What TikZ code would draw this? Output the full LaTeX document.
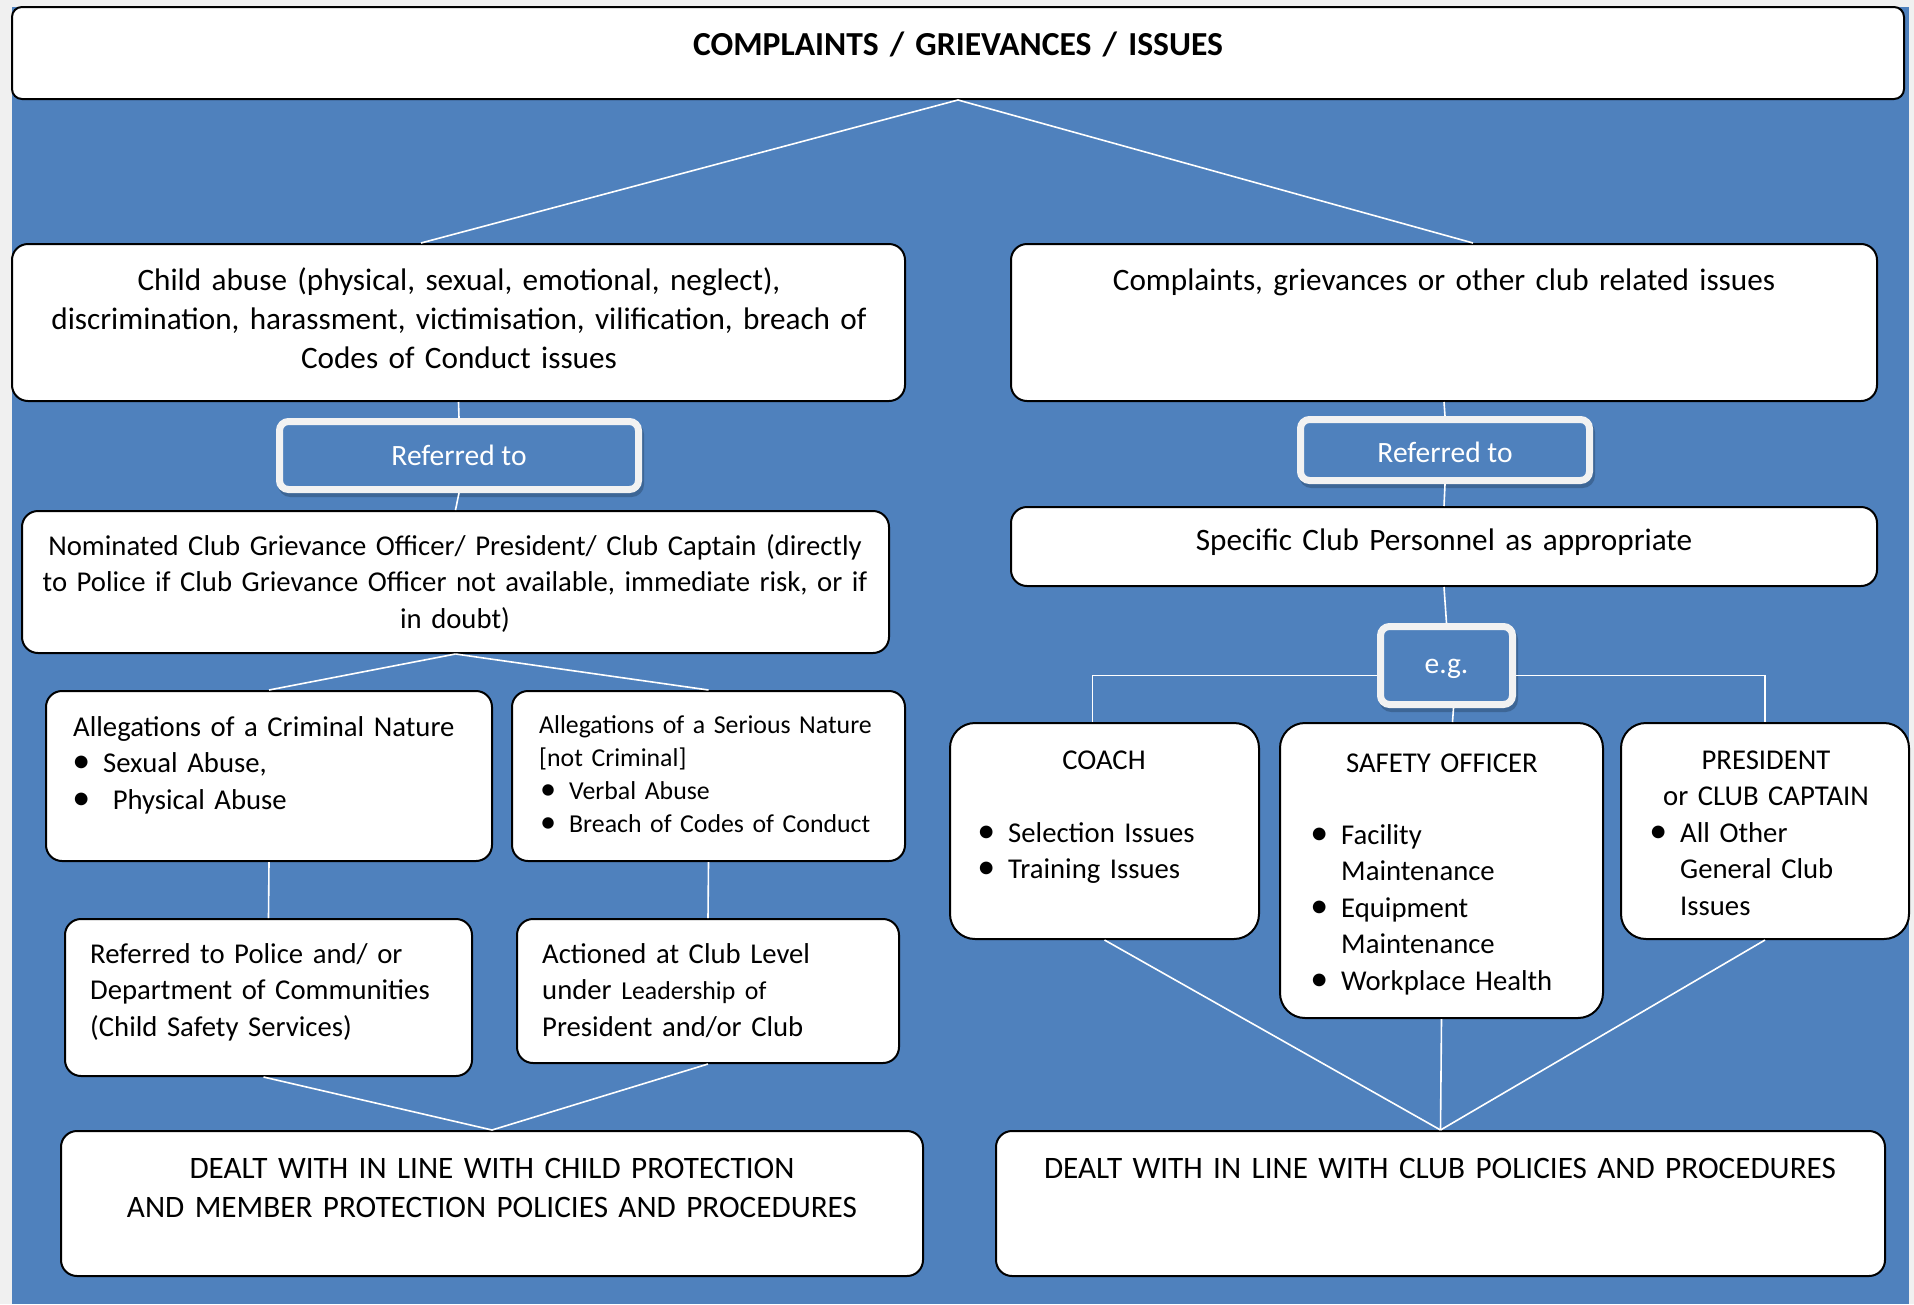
\documentclass[tikz,border=0pt]{standalone}
\usepackage{fontspec}
\setmainfont{Carlito}
\usetikzlibrary{shadows}
\definecolor{bg}{HTML}{4F81BD}
\definecolor{outer}{HTML}{F0F0F0}
\definecolor{rim}{HTML}{F2F2F2}
\definecolor{shade}{HTML}{3D6696}
\newcommand\bul{\leavevmode\llap{\scalebox{1.25}{•}\hspace{13pt}}}
\tikzset{
 box/.style={rectangle, draw=black, fill=white, line width=2pt, rounded corners=16pt, inner sep=0pt},
 refbox/.style={rectangle, draw=rim, fill=bg, line width=7pt, rounded corners=9pt, inner sep=0pt, text=white,
   font=\fontsize{29.5}{36.5}\selectfont,
   drop shadow={shadow xshift=2pt, shadow yshift=-4pt, fill=shade, draw=shade, line width=7pt, opacity=1}},
 link/.style={draw=white, line width=1.6pt},
 ctext/.style={anchor=base, inner sep=0pt, align=center, text width=#1},
 ltext/.style={anchor=base west, inner sep=0pt, align=left, text width=#1},
 fa/.style={font=\fontsize{31.2}{39}\selectfont},
 fb/.style={font=\fontsize{28.7}{36.5}\selectfont},
 fc/.style={font=\fontsize{25.8}{33.2}\selectfont},
}
\begin{document}
\begin{tikzpicture}[x=1pt,y=-1pt]
\useasboundingbox (0,0) rectangle (1914,1304);
\fill[outer] (0,0) rectangle (1914,1304);
\fill[bg] (12,7) rectangle (1909,1304);

% boxes
\node[box, rounded corners=10pt, minimum width=1892pt, minimum height=92pt] (top) at (958,53) {};
\node[box, minimum width=893pt, minimum height=157pt] (child) at (458.5,322.5) {};
\node[box, minimum width=866pt, minimum height=157pt] (comp) at (1444,322.5) {};
\node[refbox, minimum width=359pt, minimum height=68pt] (refL) at (459,455.5) {Referred to};
\node[refbox, text height=26pt, minimum width=289pt, minimum height=61pt] (refR) at (1445,450) {Referred to};
\node[box, minimum width=867pt, minimum height=142pt] (nom) at (455.5,582) {};
\node[box, minimum width=866pt, minimum height=79pt] (spec) at (1444,546.5) {};
\node[refbox, text height=21pt, minimum width=132pt, minimum height=78pt] (eg) at (1446.5,665.5) {e.g.};
\node[box, minimum width=446pt, minimum height=170pt] (crim) at (269,776) {};
\node[box, minimum width=393pt, minimum height=170pt] (ser) at (708.5,776) {};
\node[box, minimum width=407pt, minimum height=157pt] (pol) at (268.5,997.5) {};
\node[box, minimum width=382pt, minimum height=144pt] (act) at (708,991) {};
\node[box, minimum width=862pt, minimum height=145pt] (dealtL) at (492,1203.5) {};
\node[box, rounded corners=25pt, minimum width=309pt, minimum height=216pt] (coach) at (1104.5,831) {};
\node[box, rounded corners=25pt, minimum width=323pt, minimum height=295pt] (safety) at (1441.5,870.5) {};
\node[box, rounded corners=25pt, minimum width=288pt, minimum height=216pt] (pres) at (1765,831) {};
\node[box, minimum width=889pt, minimum height=145pt] (dealtR) at (1440.5,1203.5) {};

% texts
\node[ctext=1200pt, font=\fontsize{33.6}{39}\selectfont\bfseries] (topT) at (958,55) {COMPLAINTS / GRIEVANCES / ISSUES};
\node[ctext=880pt, fa] (childT) at (459,290) {Child abuse (physical, sexual, emotional, neglect),\\discrimination, harassment, victimisation, vilification, breach of\\Codes of Conduct issues};
\node[ctext=860pt, fa] (compT) at (1444,290) {Complaints, grievances or other club related issues};
\node[ctext=860pt, fb] (nomT) at (455,555) {Nominated Club Grievance Officer/ President/ Club Captain (directly\\to Police if Club Grievance Officer not available, immediate risk, or if\\in doubt)};
\node[ctext=860pt, fa] (specT) at (1444,550) {Specific Club Personnel as appropriate};
\node[ltext=420pt, fb] (crimT) at (73,736) {Allegations of a Criminal Nature\\\hspace*{30pt}\bul Sexual Abuse,\\\hspace*{30pt}\bul\ Physical Abuse};
\node[ltext=370pt, fc] (serT) at (539,733) {Allegations of a Serious Nature\\{}[not Criminal]\\\hspace*{30pt}\bul Verbal Abuse\\\hspace*{30pt}\bul Breach of Codes of Conduct};
\node[ltext=380pt, fb] (polT) at (90,963) {Referred to Police and/ or\\Department of Communities\\(Child Safety Services)};
\node[ltext=350pt, fb] (actT) at (542,963) {Actioned at Club Level\\under {\fontsize{25.8}{36.5}\selectfont Leadership of}\\President and/or Club};
\node[ctext=850pt, fa] (dealtLT) at (492,1178) {DEALT WITH IN LINE WITH CHILD PROTECTION\\AND MEMBER PROTECTION POLICIES AND PROCEDURES};
\node[ctext=300pt, fb] (coachT) at (1104,769) {COACH};
\node[ltext=240pt, fb] (coachL) at (1008,842) {\bul Selection Issues\\\bul Training Issues};
\node[ctext=300pt, fb] (safetyT) at (1442,772) {SAFETY OFFICER};
\node[ltext=250pt, fb] (safetyL) at (1341,844) {\bul Facility\\Maintenance\\\bul Equipment\\Maintenance\\\bul Workplace Health};
\node[ctext=280pt, fb] (presT) at (1766,769) {PRESIDENT\\or CLUB CAPTAIN};
\node[ltext=220pt, fb] (presL) at (1680,842) {\bul All Other\\General Club\\Issues};
\node[ctext=880pt, fa] (dealtRT) at (1440,1178) {DEALT WITH IN LINE WITH CLUB POLICIES AND PROCEDURES};

% connectors
\draw[link] (top.south) -- ([xshift=-37.5pt]child.north);
\draw[link] (top.south) -- ([xshift=29pt]comp.north);
\draw[link] (child.south) -- (refL.north);
\draw[link] (refL.south) -- (nom.north);
\draw[link] (comp.south) -- (refR.north);
\draw[link] (refR.south) -- (spec.north);
\draw[link] (spec.south) -- (eg.north);
\draw[link] ([yshift=-10pt]eg.west) -| ([xshift=-12pt]coach.north);
\draw[link] ([yshift=-10pt]eg.east) -| (pres.north);
\draw[link] ([xshift=7pt]eg.south) -- ([xshift=11pt]safety.north);
\draw[link] (nom.south) -- (crim.north);
\draw[link] (nom.south) -- (ser.north);
\draw[link] (crim.south) -- (pol.north);
\draw[link] (ser.south) -- (act.north);
\draw[link] ([xshift=-5pt]pol.south) -- (dealtL.north);
\draw[link] (act.south) -- (dealtL.north);
\draw[link] (coach.south) -- (dealtR.north);
\draw[link] (safety.south) -- (dealtR.north);
\draw[link] (pres.south) -- (dealtR.north);
\end{tikzpicture}
\end{document}
